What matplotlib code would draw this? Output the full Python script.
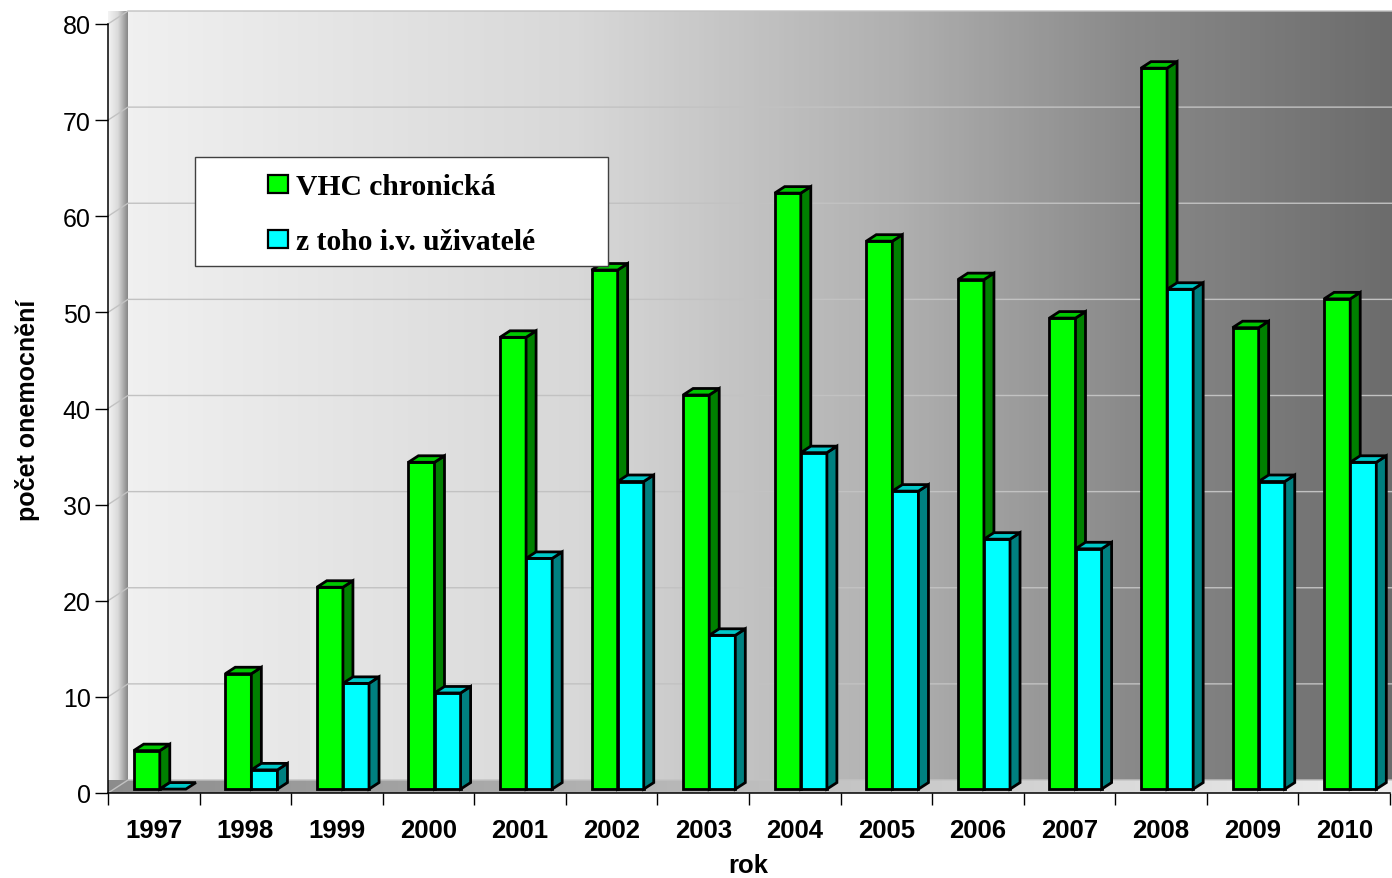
import numpy as np
import matplotlib.pyplot as plt
from matplotlib.patches import Polygon, Rectangle
from matplotlib.colors import LinearSegmentedColormap

plt.rcParams['font.family'] = ['Liberation Sans', 'DejaVu Sans']

# data
years = ['1997', '1998', '1999', '2000', '2001', '2002', '2003',
         '2004', '2005', '2006', '2007', '2008', '2009', '2010']
vhc_chronic = [4, 12, 21, 34, 47, 54, 41, 62, 57, 53, 49, 75, 48, 51]
iv_users = [0, 2, 11, 10, 24, 32, 16, 35, 31, 26, 25, 52, 32, 34]
y_ticks = list(range(0, 81, 10))
series_labels = ['VHC chronická', 'z toho i.v. uživatelé']

W, H = 1392, 879
fig = plt.figure(figsize=(W / 100, H / 100), dpi=100)
ax = fig.add_axes([108 / W, 1 - 794 / H, (1390 - 108) / W, (794 - 25) / H])

n = len(years)
ymax = 80
# 3d depth of the walls, in data units (20 px across, 13 px up)
DX = 20 / ((1390 - 108) / n)
DY = 13 / ((794 - 25) / ymax)

# back wall: light on the left, dark on the right
wall_cmap = LinearSegmentedColormap.from_list(
    'wall', [(0, '#f0f0f0'), (0.35, '#d8d8d8'), (0.6, '#b0b0b0'),
             (0.78, '#8a8a8a'), (1, '#6a6a6a')])
grad = np.linspace(0, 1, 256).reshape(1, -1)
ax.imshow(grad, cmap=wall_cmap, extent=(DX, n + DX, DY, ymax + DY),
          aspect='auto', origin='lower', clip_on=False, zorder=0)

# left side wall
side = Polygon([(0, 0), (DX, DY), (DX, ymax + DY), (0, ymax)], closed=True,
               fc='none', ec='none', transform=ax.transData)
ax.add_patch(side)
side_cmap = LinearSegmentedColormap.from_list('side', ['#f4f4f4', '#dadada', '#868686'])
im = ax.imshow(grad, cmap=side_cmap, extent=(0, DX, 0, ymax + DY),
               aspect='auto', origin='lower', clip_on=False, zorder=0.5)
im.set_clip_path(side)

# floor: dark on the left, light on the right
floor = Polygon([(0, 0), (n, 0), (n + DX, DY), (DX, DY)], closed=True,
                fc='none', ec='none', transform=ax.transData)
ax.add_patch(floor)
floor_cmap = LinearSegmentedColormap.from_list('floor', ['#8c8c8c', '#f0f0f0'])
im2 = ax.imshow(grad, cmap=floor_cmap, extent=(0, n + DX, 0, DY),
                aspect='auto', origin='lower', clip_on=False, zorder=0.5)
im2.set_clip_path(floor)

# grid lines on the side wall and back wall
for v in y_ticks:
    ax.plot([0, DX, n + DX], [v, v + DY, v + DY], color='#c2c2c2', lw=1,
            clip_on=False, zorder=0.8)

# 3d bars
bw = 0.285
f0, f1 = 0.3, 0.8
styles = [('#00ff00', '#008000', '#00c800'), ('#00ffff', '#008080', '#00c8c8')]


def bar3d(x0, h, front, dark, top):
    xa, ya = x0 + f0 * DX, f0 * DY
    xb, yb = x0 + f1 * DX, f1 * DY
    kw = dict(ec='black', lw=2.0, joinstyle='miter', clip_on=False, zorder=2)
    if h > 0:
        ax.add_patch(Rectangle((xa, ya), bw, h, fc=front, **kw))
        ax.add_patch(Polygon([(xa + bw, ya), (xb + bw, yb), (xb + bw, h + yb),
                              (xa + bw, h + ya)], closed=True, fc=dark, **kw))
    ax.add_patch(Polygon([(xa, h + ya), (xa + bw, h + ya), (xb + bw, h + yb),
                          (xb, h + yb)], closed=True, fc=top, **kw))


for i in range(n):
    bar3d(i + 0.5 - bw, vhc_chronic[i], *styles[0])
    bar3d(i + 0.5, iv_users[i], *styles[1])

ax.set_xlim(0, n)
ax.set_ylim(0, ymax)
ax.patch.set_visible(False)
for s in ['top', 'right']:
    ax.spines[s].set_visible(False)
for s in ['left', 'bottom']:
    ax.spines[s].set_linewidth(1.1)
    ax.spines[s].set_zorder(3)

ax.set_yticks(y_ticks)
ax.tick_params(axis='y', direction='out', length=9.5, width=1, pad=3,
               labelsize=18)
ax.set_xticks(np.arange(n + 1))
ax.set_xticklabels([])
ax.set_xticks(np.arange(n) + 0.5, minor=True)
ax.set_xticklabels(years, minor=True, fontsize=18.5, fontweight='bold')
ax.tick_params(axis='x', which='major', direction='out', length=8.6, width=1)
ax.tick_params(axis='x', which='minor', length=0, pad=18)

fig.text(748 / W, 1 - 866 / H, 'rok', ha='center', va='center',
         fontsize=18.5, fontweight='bold')
fig.text(28 / W, 1 - 410 / H, 'počet onemocnění', ha='center', va='center',
         rotation=90, fontsize=18, fontweight='bold')

# legend box
fig.patches.append(Rectangle((195 / W, 1 - 267 / H), 413 / W, 109 / H,
                             transform=fig.transFigure, fc='white', ec='#404040',
                             lw=1, zorder=5))
for k, (lab, yb) in enumerate(zip(series_labels, [195, 250])):
    fig.patches.append(Rectangle((268 / W, 1 - (yb - 1) / H), 20 / W, 18 / H,
                                 transform=fig.transFigure, fc=styles[k][0],
                                 ec='black', lw=1.6, zorder=6))
    fig.text(296 / W, 1 - yb / H, lab, ha='left', va='baseline', fontsize=21.3,
             fontweight='bold', family=['Liberation Serif', 'DejaVu Serif'],
             zorder=6)

fig.savefig('out.png', dpi=100)
